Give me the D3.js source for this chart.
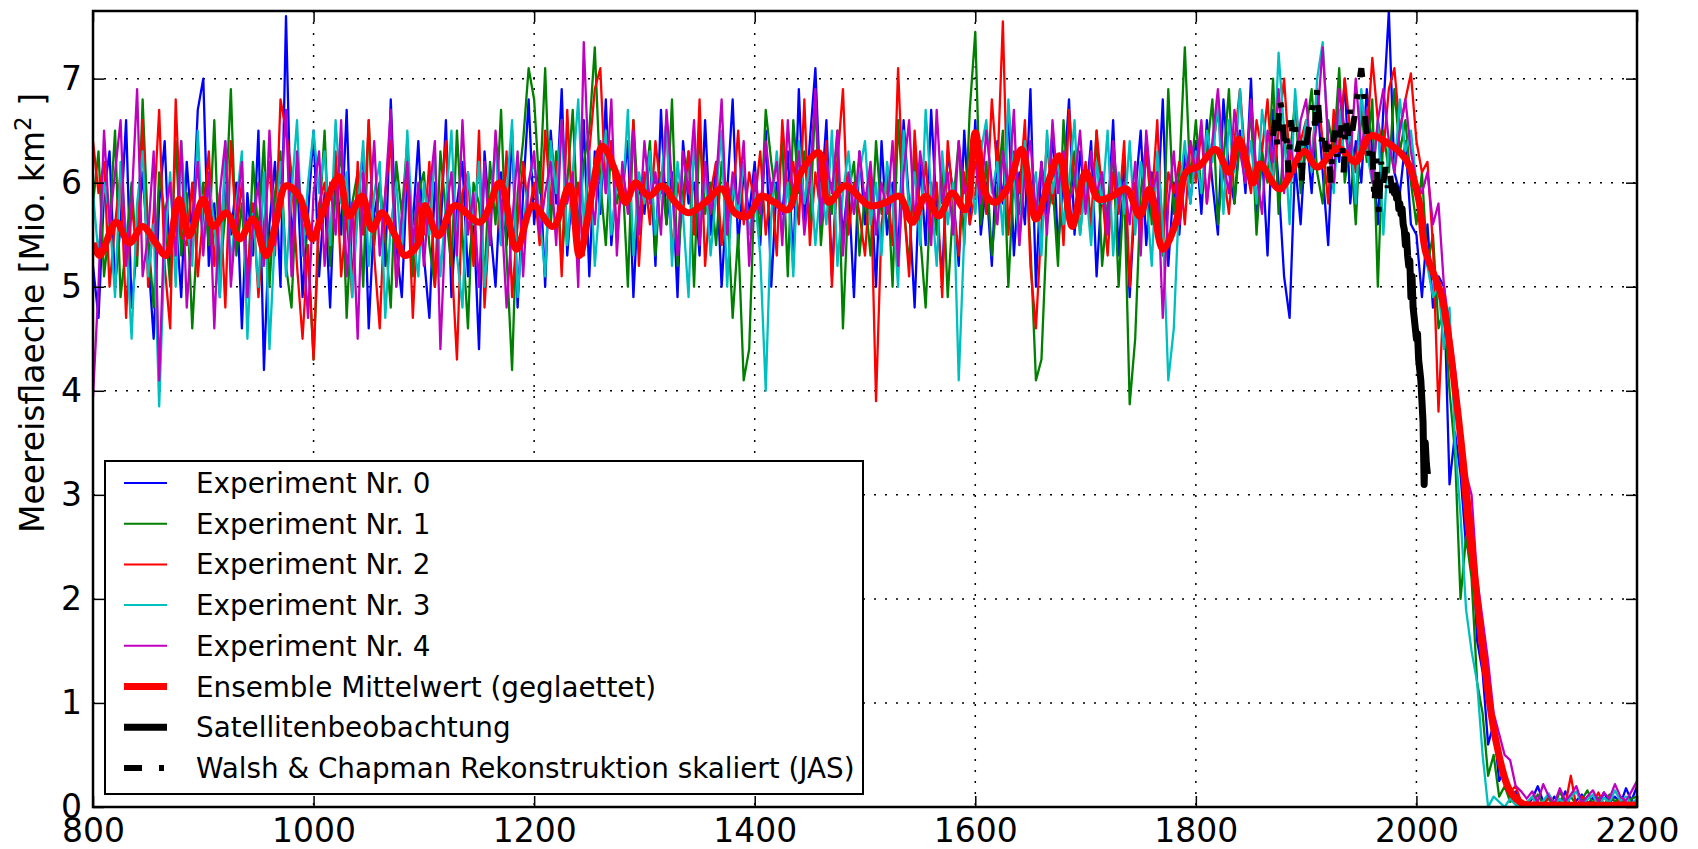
<!DOCTYPE html>
<html>
<head>
<meta charset="utf-8">
<script src="https://cdn.jsdelivr.net/npm/d3@7"></script>
<style>
body { margin: 0; background: #fff; }
svg { display: block; font-family: "DejaVu Sans", sans-serif; }
</style>
</head>
<body>
<script>
// five-year steps, 800 .. 2200
const years = d3.range(800, 2201, 5);

const exp0 = [
  5.2, 4.7, 5.9, 6.3, 5.0, 5.6, 6.6, 4.8, 5.4, 6.1, 5.3, 4.5, 5.8, 6.4, 5.1, 5.7, 4.9, 6.2, 5.5, 6.7,
  7.0, 5.2, 5.8, 4.9, 6.3, 5.5, 6.0, 4.6, 5.9, 5.3, 6.5, 4.2, 5.6, 6.2, 5.0, 7.6, 5.4, 6.1, 4.9, 5.7,
  6.5, 5.1, 5.9, 4.8, 6.2, 5.5, 6.7, 5.0, 5.8, 6.3, 4.6, 5.7, 6.0, 5.2, 6.8, 5.4, 4.9, 6.1, 5.6, 6.4,
  5.3, 4.7, 6.0, 5.5, 6.6, 4.9, 5.8, 6.2, 5.1, 5.7, 4.4, 6.3, 5.6, 5.0, 6.1, 5.4, 6.5, 4.8, 5.9, 6.8,
  5.6, 6.2, 5.0, 6.5, 5.8, 6.9, 5.3, 6.0, 5.5, 6.6, 5.1, 6.3, 5.7, 6.8, 5.4, 6.1, 5.9, 6.4, 4.9, 6.0,
  5.7, 6.3, 5.2, 6.7, 5.6, 6.1, 4.9, 6.4, 5.8, 6.0, 5.3, 6.6, 5.5, 6.2, 5.0, 5.9, 6.8, 5.4, 6.1, 5.7,
  6.2, 5.4, 6.5, 5.0, 6.0, 5.7, 6.3, 5.2, 6.9, 5.6, 6.4, 7.1, 5.8, 6.6, 5.1, 6.2, 5.5, 6.0, 4.9, 6.3,
  5.6, 6.1, 5.0, 6.4, 5.5, 6.0, 5.3, 6.6, 5.8, 4.8, 6.2, 5.4, 6.7, 5.7, 5.1, 6.3, 5.9, 5.2, 6.5, 5.6,
  6.6, 5.5, 6.0, 5.2, 6.4, 5.8, 6.7, 5.3, 6.1, 5.6, 6.9, 5.0, 6.2, 5.7, 6.5, 5.4, 6.0, 6.8, 5.5, 6.3,
  5.8, 6.4, 5.1, 6.0, 5.6, 6.6, 5.3, 6.2, 4.9, 5.9, 6.5, 5.4, 6.1, 5.7, 6.8, 5.2, 6.0, 5.5, 6.3, 5.8,
  6.4, 5.7, 6.6, 6.0, 5.5, 6.8, 6.1, 5.8, 6.5, 5.9, 7.0, 5.6, 6.3, 5.3, 6.7, 6.0, 5.1, 4.7, 6.2, 5.6,
  6.5, 5.9, 6.8, 6.1, 5.4, 6.6, 6.2, 7.0, 5.8, 6.4, 6.0, 6.9, 6.3, 5.6, 6.7, 7.65, 6.1, 5.9, 6.4, 5.6,
  5.5, 4.9, 5.6, 4.8, 5.1, 5.0, 3.1, 3.6, 3.2, 2.5, 2.7, 1.6, 1.3, 0.6, 0.8, 0.25, 0.35, 0.1, 0.15, 0.05,
  0.02, 0.08, 0.2, 0.05, 0.0, 0.1, 0.03, 0.15, 0.0, 0.06, 0.12, 0.02, 0.09, 0.0, 0.14, 0.04, 0.1, 0.03, 0.18, 0.06,
  0.2
];

const exp1 = [
  5.8, 6.3, 5.1, 5.6, 6.5, 4.9, 5.4, 6.0, 5.2, 6.8, 5.5, 4.8, 6.1, 5.7, 5.0, 6.4, 5.3, 5.9, 4.6, 5.6,
  6.0, 5.4, 6.6, 5.1, 5.7, 6.9, 5.3, 5.8, 4.9, 6.2, 5.5, 6.4, 5.0, 5.9, 6.3, 5.2, 4.8, 6.1, 5.6, 5.3,
  4.3, 5.6, 6.5, 5.2, 5.9, 6.3, 4.7, 5.8, 6.1, 5.0, 6.6, 5.4, 6.0, 5.5, 4.8, 6.2, 5.7, 6.4, 5.1, 5.9,
  6.1, 5.4, 5.0, 6.3, 5.7, 5.2, 6.5, 5.5, 4.6, 6.0, 5.8, 5.1, 6.2, 5.6, 6.7, 5.3, 4.2, 5.9, 6.4, 7.1,
  6.8, 5.9, 7.1, 5.6, 6.3, 5.2, 6.0, 6.7, 5.5, 6.2, 6.5, 7.3, 6.0, 5.4, 6.4, 5.8, 6.1, 5.0, 6.6, 5.7,
  5.9, 6.4, 5.3, 6.1, 5.6, 6.8, 5.2, 5.9, 6.3, 5.0, 6.5, 5.7, 6.0, 5.4, 6.2, 5.8, 4.7, 5.5, 4.1, 4.4,
  6.0, 5.5, 6.7, 6.2, 5.8, 6.4, 5.1, 6.6, 5.9, 6.3, 5.6, 6.8, 5.4, 6.1, 5.7, 6.5, 4.6, 5.9, 6.2, 5.3,
  5.9, 5.3, 6.4, 5.7, 6.1, 5.0, 6.6, 5.8, 5.2, 6.3, 5.5, 4.8, 6.0, 5.5, 6.2, 4.9, 5.8, 6.4, 5.4, 6.7,
  7.45, 5.6, 6.2, 5.3, 5.9, 6.5, 5.0, 6.1, 5.7, 6.4, 5.4, 4.1, 4.3, 5.6, 6.0, 5.2, 6.6, 5.8, 6.3, 5.5,
  6.1, 5.5, 6.5, 5.2, 5.8, 6.3, 5.0, 6.0, 3.87, 4.5, 5.9, 6.4, 5.6, 6.2, 5.3, 6.9, 5.7, 6.1, 7.3, 6.0,
  6.6, 5.9, 6.3, 6.8, 5.6, 6.2, 6.9, 5.8, 6.4, 6.1, 6.7, 5.5, 6.3, 6.0, 7.0, 5.7, 6.4, 6.2, 6.8, 5.9,
  6.5, 6.9, 6.1, 5.8, 6.6, 6.3, 7.1, 6.0, 6.4, 5.6, 6.7, 6.2, 6.8, 5.0, 6.5, 6.1, 6.9, 6.3, 6.6, 6.0,
  5.6, 6.1, 5.2, 5.5, 4.6, 4.8, 4.0, 3.4, 2.0, 2.6, 2.2, 1.2, 0.9, 0.3, 0.5, 0.1, 0.2, 0.05, 0.1, 0.02,
  0.05, 0.0, 0.12, 0.03, 0.08, 0.0, 0.15, 0.04, 0.1, 0.02, 0.07, 0.16, 0.03, 0.09, 0.0, 0.12, 0.05, 0.1, 0.02, 0.08,
  0.1
];

const exp2 = [
  6.4, 5.9, 6.2, 5.0, 5.6, 6.1, 4.7, 5.8, 5.3, 6.6, 5.0, 5.7, 6.7, 5.2, 4.6, 6.8, 5.5, 5.4, 6.0, 5.1,
  5.7, 6.3, 5.2, 5.9, 4.8, 6.4, 5.5, 6.0, 5.1, 5.8, 4.9, 5.6, 6.2, 5.3, 6.8, 6.5, 6.1, 5.2, 4.5, 5.4,
  4.3, 5.8, 6.0, 5.4, 6.3, 5.1, 5.7, 4.9, 6.2, 5.5, 6.6, 5.3, 4.6, 5.9, 6.4, 5.0, 5.6, 6.1, 4.7, 5.8,
  5.5, 6.2, 5.0, 5.8, 6.4, 5.3, 4.3, 5.9, 6.1, 5.2, 6.5, 4.8, 5.7, 6.0, 5.4, 6.3, 4.9, 5.6, 6.2, 5.7,
  6.0, 5.4, 6.5, 5.8, 6.2, 5.1, 6.7, 5.6, 6.0, 5.3, 6.3, 6.9, 7.1, 5.9, 6.4, 5.5, 6.1, 5.8, 6.6, 5.2,
  6.1, 5.6, 6.4, 5.9, 6.6, 5.3, 6.0, 5.7, 6.3, 5.5, 6.8, 5.2, 5.9, 6.2, 5.4, 6.0, 5.8, 6.5, 5.6, 6.1,
  5.8, 6.3, 5.5, 6.0, 5.3, 6.6, 5.9, 6.2, 5.6, 6.8, 5.4, 6.1, 5.7, 6.4, 5.0, 6.2, 6.9, 5.5, 6.0, 5.7,
  5.3, 6.1, 3.9, 5.6, 6.0, 5.4, 7.1, 5.8, 5.1, 6.5, 5.7, 6.2, 5.5, 6.0, 4.9, 6.4, 5.8, 5.3, 6.1, 5.6,
  5.9, 6.4, 5.7, 6.8, 6.1, 7.55, 5.5, 6.3, 5.9, 6.6, 5.2, 4.6, 5.6, 6.4, 5.8, 6.2, 5.4, 6.7, 6.0, 5.7,
  6.2, 5.6, 6.5, 5.9, 5.3, 6.1, 5.7, 6.4, 5.0, 6.0, 5.5, 6.3, 5.8, 6.6, 5.4, 6.1, 5.9, 6.2, 5.6, 6.4,
  6.0, 6.5, 5.8, 6.3, 6.7, 6.1, 5.7, 6.4, 6.9, 6.2, 5.9, 6.6, 6.3, 6.8, 6.0, 6.5, 7.0, 6.2, 6.7, 6.4,
  6.6, 6.2, 6.9, 6.4, 5.8, 6.7, 6.3, 7.0, 6.5, 6.1, 6.8, 6.4, 7.2, 6.6, 6.3, 6.9, 7.1, 6.5, 6.8, 7.05,
  6.4, 6.1, 6.2, 5.4, 3.8, 5.0, 4.5, 4.0, 3.3, 2.7, 2.3, 1.9, 1.6, 1.0, 0.8, 0.5, 0.35, 0.15, 0.2, 0.05,
  0.03, 0.1, 0.05, 0.0, 0.12, 0.04, 0.05, 0.02, 0.3, 0.0, 0.1, 0.05, 0.03, 0.14, 0.02, 0.06, 0.0, 0.09, 0.04, 0.02,
  0.05
];

const exp3 = [
  5.9, 5.3, 6.0, 5.7, 4.9, 6.2, 5.5, 4.5, 5.8, 6.3, 5.1, 5.6, 3.85, 5.4, 6.1, 5.0, 6.4, 5.6, 5.2, 6.5,
  5.4, 6.0, 5.6, 4.9, 6.4, 5.2, 5.8, 6.3, 4.5, 5.7, 5.0, 6.1, 4.4, 5.5, 6.2, 5.1, 5.9, 6.6, 5.3, 6.0,
  6.5, 5.9, 6.3, 5.4, 6.6, 5.8, 6.1, 4.9, 5.7, 6.4, 5.2, 5.9, 6.2, 4.7, 5.6, 6.0, 5.3, 6.5, 5.5, 5.1,
  6.0, 5.5, 6.3, 5.1, 5.8, 6.5, 5.3, 4.8, 6.1, 5.6, 6.2, 5.0, 5.7, 6.4, 5.4, 5.9, 6.6, 4.9, 5.6, 6.0,
  6.2, 5.7, 5.1, 6.4, 5.9, 6.6, 5.4, 6.1, 6.8, 5.6, 6.3, 5.2, 5.9, 6.5, 5.5, 6.0, 5.8, 6.7, 5.3, 6.1,
  5.8, 6.3, 5.5, 6.0, 6.6, 5.2, 6.2, 5.7, 4.9, 6.4, 5.6, 6.1, 5.3, 5.9, 6.5, 5.0, 6.0, 5.7, 6.2, 5.5,
  5.9, 5.3, 4.0, 5.7, 6.3, 5.5, 6.0, 5.1, 6.4, 5.8, 6.2, 5.4, 6.0, 5.6, 6.5, 5.2, 5.9, 6.3, 5.7, 6.1,
  6.4, 5.6, 6.0, 5.3, 6.2, 5.8, 5.0, 6.5, 5.7, 6.1, 5.4, 6.7, 5.9, 5.2, 6.3, 5.6, 6.0, 4.1, 5.5, 6.2,
  5.7, 6.3, 6.6, 5.9, 6.2, 5.5, 6.8, 6.0, 5.4, 6.4, 5.8, 6.1, 5.3, 6.5, 5.9, 6.2, 5.6, 6.0, 6.6, 5.5,
  6.0, 5.4, 6.2, 5.8, 6.5, 5.3, 6.1, 5.7, 6.4, 5.5, 6.2, 5.9, 5.2, 6.3, 5.6, 4.1, 4.6, 5.9, 6.4, 5.8,
  6.3, 5.9, 6.5, 6.2, 6.8, 5.7, 6.6, 6.1, 6.9, 6.0, 6.4, 5.8, 6.7, 6.3, 6.0, 7.25, 6.5, 5.6, 6.9, 6.2,
  6.6, 6.1, 7.0, 7.35, 6.4, 5.9, 6.7, 6.2, 6.5, 5.8, 6.9, 6.3, 6.0, 6.6, 5.5, 6.4, 6.1, 6.8, 6.3, 6.5,
  6.0, 5.7, 5.2, 4.9, 5.0, 4.4, 4.8, 3.5, 2.8, 1.9, 1.5, 1.2, 0.5, 0.0, 0.1, 0.05, 0.0, 0.08, 0.02, 0.0,
  0.04, 0.1, 0.0, 0.06, 0.13, 0.02, 0.08, 0.0, 0.1, 0.15, 0.03, 0.07, 0.12, 0.0, 0.09, 0.04, 0.16, 0.06, 0.1, 0.03,
  0.08
];

const exp4 = [
  3.94, 5.0, 6.5, 5.6, 6.1, 6.6, 5.2, 5.8, 6.9, 5.1, 5.5, 6.3, 4.1, 5.7, 6.0, 5.3, 6.4, 4.8, 5.6, 6.2,
  5.3, 6.1, 4.6, 5.9, 6.4, 5.0, 5.7, 6.2, 4.9, 5.6, 6.0, 5.2, 6.5, 5.4, 5.8, 6.7, 5.1, 6.3, 5.5, 4.7,
  5.9, 6.3, 5.2, 6.0, 5.5, 6.6, 5.1, 5.8, 4.5, 6.1, 5.6, 6.4, 5.3, 5.9, 6.7, 5.0, 5.7, 6.2, 5.4, 6.0,
  5.2, 5.9, 6.4, 4.4, 5.7, 6.1, 5.3, 6.6, 5.5, 5.9, 5.0, 6.2, 5.4, 6.5, 5.8, 4.8, 5.6, 6.3, 5.1, 6.0,
  6.3, 5.5, 5.9, 6.2, 5.4, 6.6, 5.8, 6.1, 5.0, 7.35, 6.0, 5.6, 6.4, 5.9, 6.8, 5.3, 6.2, 5.7, 6.5, 5.5,
  6.4, 5.8, 6.1, 5.5, 6.7, 6.0, 5.3, 6.3, 5.9, 6.6, 5.4, 6.2, 5.7, 6.0, 6.8, 5.5, 6.1, 5.8, 6.4, 5.2,
  6.1, 5.7, 6.4, 5.9, 6.2, 5.4, 6.6, 5.8, 6.3, 5.5, 6.0, 6.9, 5.6, 6.2, 5.9, 6.5, 5.3, 6.1, 5.7, 6.3,
  5.8, 6.2, 5.5, 6.0, 5.7, 6.4, 5.2, 6.1, 6.6, 5.6, 6.3, 5.9, 5.4, 6.7, 5.8, 6.1, 5.5, 6.4, 5.9, 6.0,
  6.2, 5.8, 6.5, 6.0, 5.6, 6.3, 5.9, 6.7, 5.4, 6.1, 6.4, 5.7, 6.2, 5.5, 6.6, 5.9, 6.3, 5.8, 6.0, 6.5,
  5.7, 6.3, 5.9, 6.1, 5.5, 6.4, 5.8, 6.0, 5.6, 6.2, 5.3, 6.5, 5.9, 6.1, 4.7, 5.8, 6.3, 5.6, 6.0, 6.4,
  6.1, 6.6, 5.8, 6.4, 6.9, 6.2, 5.9, 6.7, 6.3, 6.0, 6.8, 6.1, 5.7, 6.5, 6.2, 6.9, 5.9, 6.4, 6.1, 6.6,
  6.8, 6.2, 6.6, 7.3, 6.4, 6.0, 6.9, 6.5, 6.2, 7.0, 6.3, 6.7, 6.0, 6.6, 6.9, 6.4, 6.1, 6.5, 6.8, 6.3,
  6.0, 5.9, 6.1, 5.6, 5.8, 5.0, 4.6, 4.2, 3.7, 3.2, 3.0, 2.2, 1.8, 1.4, 0.9, 0.7, 0.5, 0.45, 0.2, 0.15,
  0.08, 0.15, 0.05, 0.22, 0.1, 0.03, 0.18, 0.06, 0.12, 0.2, 0.04, 0.1, 0.16, 0.05, 0.14, 0.08, 0.22, 0.1, 0.06, 0.15,
  0.25
];

// smoothed ensemble mean, read at irregular years
const meanYears = [
  800, 806, 821, 833, 845, 857, 866, 878, 887, 900, 909, 921, 933, 945, 957, 966, 975, 987, 999,
  1008, 1023, 1032, 1044, 1053, 1062, 1074, 1083, 1095, 1101, 1113, 1128, 1151, 1169, 1184, 1199,
  1217, 1232, 1241, 1253, 1262, 1274, 1283, 1292, 1304, 1316, 1328, 1340, 1355, 1370, 1382, 1394,
  1406, 1418, 1430, 1442, 1458, 1467, 1482, 1504, 1519, 1531, 1543, 1555, 1567, 1579, 1591, 1600,
  1609, 1618, 1630, 1642, 1655, 1667, 1676, 1688, 1700, 1712, 1724, 1737, 1749, 1758, 1770, 1782,
  1791, 1803, 1818, 1830, 1839, 1852, 1858, 1876, 1898, 1910, 1929, 1945, 1958, 1971, 1990, 2002,
  2008, 2023, 2036, 2048, 2060, 2072, 2085, 2097, 2110, 2200
];
const meanValues = [
  5.42, 5.3, 5.62, 5.42, 5.58, 5.42, 5.3, 5.84, 5.49, 5.84, 5.58, 5.71, 5.46, 5.65, 5.3, 5.62, 5.97, 5.87, 5.46,
  5.71, 6.06, 5.68, 5.87, 5.55, 5.71, 5.49, 5.3, 5.42, 5.78, 5.49, 5.78, 5.62, 6.0, 5.36, 5.78,
  5.58, 5.97, 5.3, 5.94, 6.35, 6.1, 5.81, 6.0, 5.87, 5.97, 5.81, 5.71, 5.81, 5.94, 5.71, 5.68,
  5.87, 5.81, 5.74, 6.1, 6.29, 5.81, 5.97, 5.78, 5.81, 5.87, 5.62, 5.87, 5.68, 5.9, 5.74, 6.48,
  5.9, 5.81, 5.97, 6.32, 5.65, 6.03, 6.26, 5.58, 6.1, 5.84, 5.87, 5.94, 5.68, 5.94, 5.36, 5.62,
  6.1, 6.16, 6.32, 6.1, 6.42, 6.0, 6.18, 5.94, 6.3, 6.15, 6.33, 6.2, 6.45, 6.4, 6.23, 5.84,
  5.35, 4.9, 3.93, 2.75, 1.52, 0.64, 0.15, 0.03, 0.02, 0.02
];

// Walsh & Chapman reconstruction, every second year 1870..1978
const wcYears = d3.range(1870, 1979, 2);
const wcValues = [
  6.45, 6.6, 6.35, 6.8, 6.7, 6.4, 6.5, 6.1, 6.6, 6.45, 6.55, 6.3, 6.4, 6.0, 6.45,
  6.35, 6.5, 6.6, 6.75, 6.55, 6.9, 6.6, 6.4, 6.5, 6.3, 6.45, 6.0, 6.35, 6.5, 6.25,
  6.4, 6.55, 6.1, 6.6, 6.45, 6.7, 6.5, 6.65, 6.8, 6.95, 7.1, 6.9, 6.55, 6.4, 6.2,
  6.3, 5.8, 6.25, 5.7, 6.2, 6.0, 6.15, 5.95, 6.1, 5.9
];

// satellite observation 1979..2010
const satYears = d3.range(1979, 2011, 1);
const satValues = [
  6.0, 5.9, 5.95, 5.85, 5.9, 5.75, 5.8, 5.7, 5.75, 5.6, 5.55, 5.4, 5.5, 5.3, 5.2, 5.25,
  4.9, 5.1, 4.8, 4.7, 4.6, 4.5, 4.55, 4.3, 4.2, 4.1, 3.9, 3.7, 3.1, 3.5, 3.3, 3.2
];

const xTicks = [800, 1000, 1200, 1400, 1600, 1800, 2000, 2200];
const yTicks = [0, 1, 2, 3, 4, 5, 6, 7];

const expColors = ['#0000ff', '#008000', '#ff0000', '#00bfbf', '#bf00bf'];
const legendLabels = [
  'Experiment Nr. 0', 'Experiment Nr. 1', 'Experiment Nr. 2', 'Experiment Nr. 3', 'Experiment Nr. 4',
  'Ensemble Mittelwert (geglaettet)', 'Satellitenbeobachtung',
  'Walsh & Chapman Rekonstruktion skaliert (JAS)'
];

[exp0, exp1, exp2, exp3, exp4].forEach((s, i) => {
  if (s.length !== years.length) console.error('exp' + i + ' has ' + s.length + ' values');
});

const W = 1698, H = 849;
const m = {left: 93, right: 1637, top: 11, bottom: 807};

const svg = d3.select('body').append('svg').attr('width', W).attr('height', H);

const x = d3.scaleLinear().domain([800, 2200]).range([m.left, m.right]);
const y = d3.scaleLinear().domain([0, 7.65]).range([m.bottom, m.top]);

svg.append('clipPath').attr('id', 'plot')
  .append('rect')
  .attr('x', m.left).attr('y', m.top)
  .attr('width', m.right - m.left).attr('height', m.bottom - m.top);

// grid
const grid = svg.append('g').attr('stroke', '#000').attr('stroke-width', 1.5).attr('stroke-dasharray', '2,9');
grid.selectAll('.gx').data(xTicks.slice(1, -1)).enter().append('line')
  .attr('x1', d => x(d)).attr('x2', d => x(d))
  .attr('y1', m.top).attr('y2', m.bottom);
grid.selectAll('.gy').data(yTicks.slice(1)).enter().append('line')
  .attr('x1', m.left).attr('x2', m.right)
  .attr('y1', d => y(d)).attr('y2', d => y(d));

// data
const plot = svg.append('g').attr('clip-path', 'url(#plot)');
const line = d3.line().x(d => x(d[0])).y(d => y(d[1]));

[exp0, exp1, exp2, exp3, exp4].forEach((s, i) => {
  plot.append('path')
    .datum(s.map((v, j) => [years[j], v]))
    .attr('d', line)
    .attr('fill', 'none')
    .attr('stroke', expColors[i])
    .attr('stroke-width', 2.3)
    .attr('stroke-linejoin', 'round');
});

plot.append('path')
  .datum(meanValues.map((v, j) => [meanYears[j], v]))
  .attr('d', line.curve(d3.curveCatmullRom))
  .attr('fill', 'none')
  .attr('stroke', '#ff0000')
  .attr('stroke-width', 7)
  .attr('stroke-linejoin', 'round');

line.curve(d3.curveLinear);

plot.append('path')
  .datum(satValues.map((v, j) => [satYears[j], v]))
  .attr('d', line)
  .attr('fill', 'none')
  .attr('stroke', '#000')
  .attr('stroke-width', 7)
  .attr('stroke-linejoin', 'round');

plot.append('path')
  .datum(wcValues.map((v, j) => [wcYears[j], v]))
  .attr('d', line)
  .attr('fill', 'none')
  .attr('stroke', '#000')
  .attr('stroke-width', 6)
  .attr('stroke-dasharray', '18,17,5,17');

// axes (ticks inward on all four sides)
function styleAxis(g) {
  g.select('.domain').remove();
  g.selectAll('.tick line').attr('stroke', '#000').attr('stroke-width', 1.5);
  g.selectAll('.tick text').attr('fill', '#000').attr('font-size', 33).attr('font-family', '"DejaVu Sans", sans-serif');
}

svg.append('g').attr('transform', `translate(0,${m.bottom})`)
  .call(d3.axisBottom(x).tickValues(xTicks).tickSize(-11).tickPadding(12).tickFormat(d3.format('d')))
  .call(styleAxis);
svg.append('g').attr('transform', `translate(0,${m.top})`)
  .call(d3.axisTop(x).tickValues(xTicks).tickSize(-11).tickFormat(''))
  .call(styleAxis);
svg.append('g').attr('transform', `translate(${m.left},0)`)
  .call(d3.axisLeft(y).tickValues(yTicks).tickSize(-11).tickPadding(11).tickFormat(d3.format('d')))
  .call(styleAxis);
svg.append('g').attr('transform', `translate(${m.right},0)`)
  .call(d3.axisRight(y).tickValues(yTicks).tickSize(-11).tickFormat(''))
  .call(styleAxis);

svg.append('rect')
  .attr('x', m.left).attr('y', m.top)
  .attr('width', m.right - m.left).attr('height', m.bottom - m.top)
  .attr('fill', 'none').attr('stroke', '#000').attr('stroke-width', 2.5);

// y label
const yl = svg.append('text')
  .attr('transform', 'translate(44,313) rotate(-90)')
  .attr('text-anchor', 'middle')
  .attr('font-size', 33)
  .attr('fill', '#000');
yl.append('tspan').text('Meereisflaeche [Mio. km');
yl.append('tspan').attr('dy', -13).attr('font-size', 23).text('2');
yl.append('tspan').attr('dy', 13).text(' ]');

// legend
const lg = svg.append('g');
lg.append('rect')
  .attr('x', 105).attr('y', 461).attr('width', 758).attr('height', 333)
  .attr('fill', '#fff').attr('stroke', '#000').attr('stroke-width', 2);

const legendStyles = [
  {c: expColors[0], w: 2}, {c: expColors[1], w: 2}, {c: expColors[2], w: 2},
  {c: expColors[3], w: 2}, {c: expColors[4], w: 2},
  {c: '#ff0000', w: 7}, {c: '#000', w: 7}, {c: '#000', w: 6, dash: '18,17,5,17'}
];

const item = lg.selectAll('.item').data(legendLabels).enter().append('g')
  .attr('transform', (d, i) => `translate(0,${483 + i * 40.7})`);
item.append('line')
  .attr('x1', 124).attr('x2', 167).attr('y1', 0).attr('y2', 0)
  .attr('stroke', (d, i) => legendStyles[i].c)
  .attr('stroke-width', (d, i) => legendStyles[i].w)
  .attr('stroke-dasharray', (d, i) => legendStyles[i].dash || null);
item.append('text')
  .attr('x', 196).attr('y', 10)
  .attr('font-size', 27.8)
  .attr('fill', '#000')
  .text(d => d);
</script>
</body>
</html>
